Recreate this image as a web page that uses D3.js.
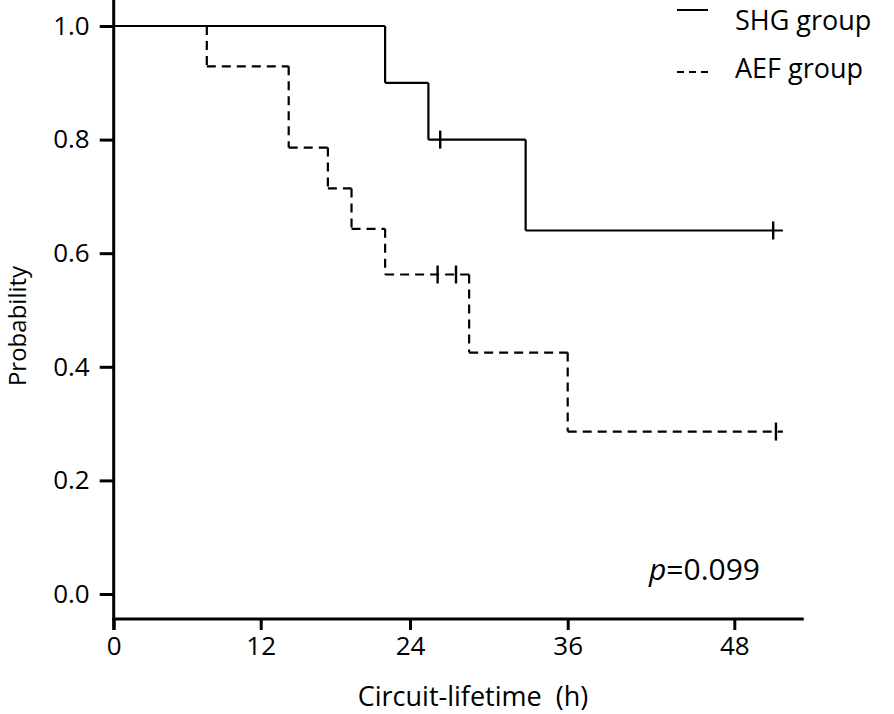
<!DOCTYPE html>
<html><head><meta charset="utf-8">
<script src="https://cdn.jsdelivr.net/npm/d3@7"></script>
<style>body{margin:0;background:#fff}svg{display:block}text{font-family:"Open Sans",sans-serif;fill:#000}</style>
</head><body>
<svg id="c" width="894" height="714"></svg>
<script>
// ---- data ----
const xTicks = [0, 12, 24, 36, 48];
const yTicks = [0, 0.2, 0.4, 0.6, 0.8, 1.0];
const shgTimes = [0, 22, 25.4, 32.8, 51.5];
const shgSurv  = [1.0, 0.9, 0.8, 0.64, 0.64];
const shgCensorTimes = [26.3, 50.8];
const shgCensorSurv  = [0.8, 0.64];
const aefTimes = [0, 7.6, 14.25, 17.4, 19.3, 22, 28.5, 36, 51.5];
const aefSurv  = [1.0, 0.929, 0.786, 0.714, 0.643, 0.5625, 0.425, 0.286, 0.286];
const aefCensorTimes = [26.1, 27.5, 51.0];
const aefCensorSurv  = [0.5625, 0.5625, 0.286];
const seriesNames = ["SHG group", "AEF group"];
const pText = "=0.099";
const xTitle = "Circuit-lifetime\u00a0\u00a0(h)";
const yTitle = "Probability";
const xAxisMax = 53;

// ---- layout ----
const svg = d3.select("#c");
const x = d3.scaleLinear().domain([0, 12, 24, 36, 48]).range([113.7, 260.7, 410, 567.7, 734.3]);
const y = d3.scaleLinear().domain([0, 1]).range([594, 26]);
const axisY = 619;

// axes
const gx = svg.append("g").attr("transform", `translate(0,${axisY})`)
  .call(d3.axisBottom(x).tickValues(xTicks).tickFormat(d3.format("d")).tickSize(11).tickSizeOuter(0).tickPadding(7));
gx.select(".domain").remove();
gx.selectAll(".tick line").attr("stroke", "#000").attr("stroke-width", 3);
gx.selectAll(".tick text").attr("font-size", 26).attr("font-family", '"Open Sans",sans-serif');
svg.append("line").attr("x1", x(0) - 1.5).attr("x2", x(xAxisMax)).attr("y1", axisY).attr("y2", axisY)
  .attr("stroke", "#000").attr("stroke-width", 3);

const gy = svg.append("g").attr("transform", `translate(${x(0)},0)`)
  .call(d3.axisLeft(y).tickValues(yTicks).tickFormat(d3.format(".1f")).tickSize(14).tickSizeOuter(0).tickPadding(10));
gy.select(".domain").remove();
gy.selectAll(".tick line").attr("stroke", "#000").attr("stroke-width", 3);
gy.selectAll(".tick text").attr("font-size", 26).attr("font-family", '"Open Sans",sans-serif');
svg.append("line").attr("x1", x(0)).attr("x2", x(0)).attr("y1", 0).attr("y2", axisY + 11)
  .attr("stroke", "#000").attr("stroke-width", 3);

// curves
function drawSteps(times, surv, dash) {
  const g = svg.append("g").attr("fill", "none").attr("stroke", "#000").attr("stroke-width", 2.2);
  for (let i = 0; i < times.length - 1; i++) {
    g.append("line").attr("x1", x(times[i])).attr("x2", x(times[i + 1]))
      .attr("y1", y(surv[i])).attr("y2", y(surv[i])).attr("stroke-dasharray", dash);
    if (surv[i + 1] !== surv[i]) {
      g.append("line").attr("x1", x(times[i + 1])).attr("x2", x(times[i + 1]))
        .attr("y1", y(surv[i])).attr("y2", y(surv[i + 1])).attr("stroke-dasharray", dash);
    }
  }
}
drawSteps(shgTimes, shgSurv, null);
drawSteps(aefTimes, aefSurv, "9,6");

function drawCensors(times, surv) {
  svg.append("g").selectAll("line").data(times).join("line")
    .attr("x1", d => x(d)).attr("x2", d => x(d))
    .attr("y1", (d, i) => y(surv[i]) - 9).attr("y2", (d, i) => y(surv[i]) + 9)
    .attr("stroke", "#000").attr("stroke-width", 2.4);
}
drawCensors(shgCensorTimes, shgCensorSurv);
drawCensors(aefCensorTimes, aefCensorSurv);

// legend
svg.append("line").attr("x1", 677).attr("x2", 708).attr("y1", 10).attr("y2", 10)
  .attr("stroke", "#000").attr("stroke-width", 2);
svg.append("line").attr("x1", 677).attr("x2", 708).attr("y1", 72).attr("y2", 72)
  .attr("stroke", "#000").attr("stroke-width", 2).attr("stroke-dasharray", "7,5");
svg.append("text").attr("x", 735).attr("y", 30).attr("font-size", 27).text(seriesNames[0]);
svg.append("text").attr("x", 735).attr("y", 78).attr("font-size", 27).text(seriesNames[1]);

// p value
const pt = svg.append("text").attr("x", 649).attr("y", 580).attr("font-size", 30);
pt.append("tspan").attr("font-style", "italic").text("p");
pt.append("tspan").text(pText);

// axis titles
svg.append("text").attr("x", 473).attr("y", 706).attr("text-anchor", "middle").attr("font-size", 27).text(xTitle);
svg.append("text").attr("transform", "translate(26,326) rotate(-90)").attr("text-anchor", "middle")
  .attr("font-size", 24).text(yTitle);
</script>
</body></html>
